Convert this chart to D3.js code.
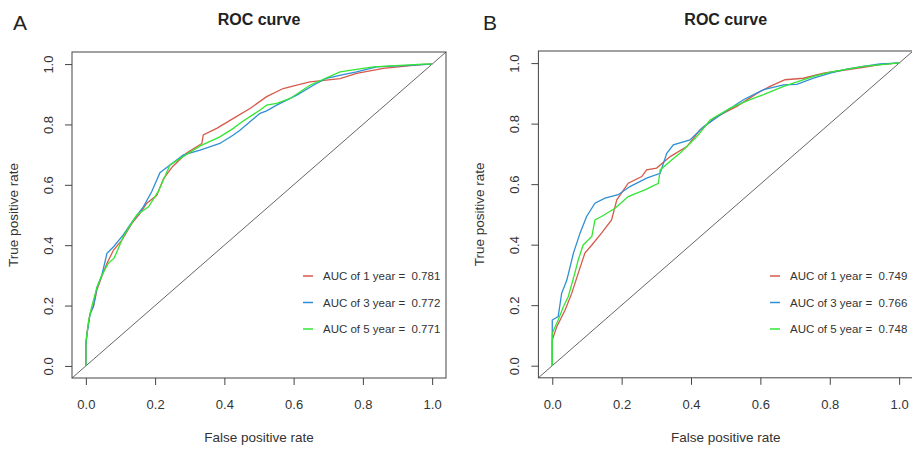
<!DOCTYPE html>
<html>
<head>
<meta charset="utf-8">
<title>ROC curves</title>
<style>
  body { margin: 0; background: #fff; }
  text { font-family: "Liberation Sans", Arial, sans-serif; }
</style>
</head>
<body>
<script src="https://d3js.org/d3.v7.min.js"></script>
<script>

// ROC points, [false positive rate, true positive rate]
var rocA1 = [[0,0],[0,0.07],[0.003,0.108],[0.012,0.174],[0.022,0.196],[0.032,0.252],[0.046,0.296],[0.061,0.34],[0.08,0.384],[0.104,0.417],[0.133,0.472],[0.157,0.506],[0.176,0.539],[0.205,0.565],[0.224,0.62],[0.25,0.66],[0.291,0.705],[0.335,0.737],[0.339,0.765],[0.378,0.787],[0.426,0.82],[0.474,0.853],[0.522,0.892],[0.57,0.919],[0.609,0.93],[0.647,0.941],[0.734,0.952],[0.782,0.969],[0.859,0.986],[0.974,0.999],[1,1]];
var rocA3 = [[0,0],[0,0.07],[0.004,0.11],[0.012,0.17],[0.022,0.2],[0.032,0.26],[0.046,0.3],[0.061,0.373],[0.08,0.395],[0.108,0.434],[0.137,0.483],[0.166,0.527],[0.19,0.577],[0.214,0.64],[0.224,0.649],[0.282,0.699],[0.33,0.715],[0.387,0.737],[0.426,0.765],[0.445,0.781],[0.503,0.837],[0.522,0.845],[0.551,0.864],[0.609,0.897],[0.657,0.93],[0.695,0.953],[0.743,0.965],[0.782,0.974],[0.84,0.991],[0.935,0.996],[1,1]];
var rocA5 = [[0,0],[0,0.075],[0.008,0.15],[0.017,0.196],[0.032,0.26],[0.046,0.3],[0.065,0.34],[0.082,0.358],[0.108,0.428],[0.147,0.5],[0.181,0.527],[0.21,0.58],[0.214,0.59],[0.243,0.666],[0.33,0.729],[0.387,0.759],[0.426,0.787],[0.445,0.804],[0.503,0.848],[0.522,0.864],[0.551,0.87],[0.59,0.886],[0.647,0.93],[0.734,0.974],[0.83,0.991],[0.974,1],[1,1]];

var rocB1 = [[0,0],[0,0.085],[0.013,0.129],[0.037,0.184],[0.056,0.239],[0.075,0.306],[0.094,0.372],[0.114,0.399],[0.142,0.438],[0.171,0.482],[0.186,0.548],[0.219,0.603],[0.258,0.625],[0.272,0.647],[0.301,0.653],[0.34,0.691],[0.388,0.724],[0.426,0.779],[0.474,0.823],[0.532,0.857],[0.59,0.9],[0.628,0.923],[0.671,0.945],[0.724,0.95],[0.782,0.967],[0.849,0.978],[0.897,0.986],[0.945,0.995],[0.993,1],[1,1]];
var rocB3 = [[0,0],[0,0.151],[0.017,0.162],[0.027,0.239],[0.042,0.283],[0.061,0.372],[0.08,0.438],[0.099,0.493],[0.123,0.537],[0.152,0.554],[0.19,0.565],[0.224,0.592],[0.272,0.62],[0.311,0.636],[0.33,0.702],[0.349,0.73],[0.397,0.746],[0.436,0.79],[0.493,0.835],[0.551,0.879],[0.609,0.912],[0.667,0.928],[0.705,0.93],[0.753,0.95],[0.801,0.967],[0.849,0.98],[0.897,0.989],[0.945,0.997],[0.993,1],[1,1]];
var rocB5 = [[0,0],[0,0.107],[0.017,0.151],[0.032,0.195],[0.046,0.228],[0.065,0.306],[0.075,0.35],[0.089,0.399],[0.114,0.427],[0.123,0.482],[0.142,0.493],[0.181,0.52],[0.219,0.559],[0.267,0.581],[0.306,0.603],[0.311,0.647],[0.344,0.68],[0.368,0.702],[0.417,0.757],[0.455,0.812],[0.513,0.851],[0.57,0.879],[0.609,0.896],[0.667,0.923],[0.753,0.956],[0.801,0.97],[0.897,0.989],[0.993,1],[1,1]];

var aucA = ["0.781", "0.772", "0.771"];
var aucB = ["0.749", "0.766", "0.748"];
var yearLabels = ["AUC of 1 year = ", "AUC of 3 year = ", "AUC of 5 year = "];
var tickValues = [0, 0.2, 0.4, 0.6, 0.8, 1.0];
var colors = ["#d65a4c", "#2f8fd3", "#33e633"];

var svg = d3.select("body")
    .append("svg")
    .attr("width", 912)
    .attr("height", 449);

function drawPanel(letter, letterX, left, right, top, bottom, series, aucs, legendX) {
    var x = d3.scaleLinear().domain([-0.04, 1.04]).range([left, right]);
    var y = d3.scaleLinear().domain([-0.04, 1.04]).range([bottom, top]);
    var g = svg.append("g");

    // diagonal reference line (drawn over the whole box)
    g.append("line")
        .attr("x1", x(-0.04)).attr("y1", y(-0.04))
        .attr("x2", x(1.04)).attr("y2", y(1.04))
        .attr("stroke", "#666").attr("stroke-width", 1);

    var line = d3.line()
        .x(function(d){ return x(d[0]); })
        .y(function(d){ return y(d[1]); });

    series.forEach(function(s, i){
        g.append("path")
            .attr("d", line(s))
            .attr("fill", "none")
            .attr("stroke", colors[i])
            .attr("stroke-width", 1.3);
    });

    // box
    g.append("rect")
        .attr("x", left).attr("y", top)
        .attr("width", right - left).attr("height", bottom - top)
        .attr("fill", "none").attr("stroke", "#444").attr("stroke-width", 1);

    var xAxis = g.append("g")
        .attr("transform", "translate(0," + bottom + ")")
        .call(d3.axisBottom(x).tickValues(tickValues).tickFormat(d3.format(".1f")).tickSize(7).tickSizeOuter(0));
    xAxis.select(".domain").remove();
    xAxis.selectAll("line").attr("stroke", "#444");
    xAxis.selectAll("text").attr("font-size", 13).attr("fill", "#333").attr("dy", "1.6em")
        .style("font-family", "'Liberation Sans', Arial, sans-serif");

    var yAxis = g.append("g")
        .attr("transform", "translate(" + left + ",0)")
        .call(d3.axisLeft(y).tickValues(tickValues).tickFormat(d3.format(".1f")).tickSize(7).tickSizeOuter(0));
    yAxis.select(".domain").remove();
    yAxis.selectAll("line").attr("stroke", "#444");
    yAxis.selectAll("text").remove();
    yAxis.selectAll(".tick").append("text")
        .attr("transform", "translate(-24,0) rotate(-90)")
        .attr("text-anchor", "middle")
        .attr("dy", "0.35em")
        .attr("font-size", 13)
        .attr("fill", "#333")
        .text(function(d){ return d3.format(".1f")(d); });

    var cx = (left + right) / 2;
    g.append("text").attr("x", cx).attr("y", 25)
        .attr("text-anchor", "middle").attr("font-size", 16).attr("font-weight", "bold")
        .attr("fill", "#222").text("ROC curve");
    g.append("text").attr("x", cx).attr("y", 442)
        .attr("text-anchor", "middle").attr("font-size", 13.5).attr("fill", "#333")
        .text("False positive rate");
    g.append("text")
        .attr("transform", "translate(" + (left - 54) + "," + ((top + bottom) / 2) + ") rotate(-90)")
        .attr("text-anchor", "middle").attr("font-size", 13.5).attr("fill", "#333")
        .text("True positive rate");

    g.append("text").attr("x", letterX).attr("y", 30)
        .attr("font-size", 21).attr("fill", "#222").text(letter);

    // legend
    var rows = [276, 302.5, 329];
    aucs.forEach(function(a, i){
        g.append("line")
            .attr("x1", legendX).attr("x2", legendX + 10)
            .attr("y1", rows[i]).attr("y2", rows[i])
            .attr("stroke", colors[i]).attr("stroke-width", 1.5);
        g.append("text")
            .attr("x", legendX + 20).attr("y", rows[i]).attr("dy", "0.35em")
            .attr("font-size", 11.5).attr("fill", "#333")
            .attr("xml:space", "preserve")
            .style("white-space", "pre")
            .text(yearLabels[i] + " " + a);
    });
}

drawPanel("A", 13, 72, 446, 52, 378, [rocA1, rocA3, rocA5], aucA, 303);
drawPanel("B", 483, 538.4, 913, 51, 377.8, [rocB1, rocB3, rocB5], aucB, 770);

</script>
</body>
</html>
